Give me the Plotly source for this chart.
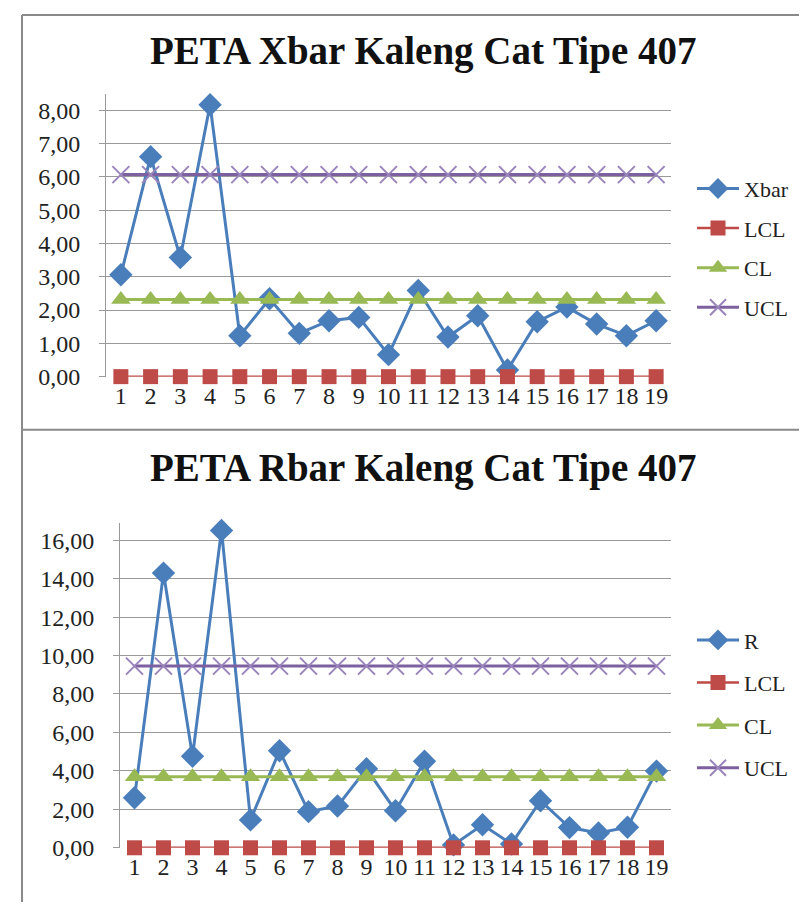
import plotly.graph_objects as go

# ---------------- data ----------------
samples = list(range(1, 20))
tick_labels = [str(i) for i in samples]

xbar = [3.06, 6.61, 3.58, 8.17, 1.23, 2.34, 1.30, 1.68, 1.78, 0.66,
        2.59, 1.19, 1.83, 0.20, 1.65, 2.09, 1.58, 1.23, 1.68]
xbar_lcl = [0.00, 0.00, 0.00, 0.00, 0.00, 0.00, 0.00, 0.00, 0.00, 0.00,
            0.00, 0.00, 0.00, 0.00, 0.00, 0.00, 0.00, 0.00, 0.00]
xbar_cl = [2.32, 2.32, 2.32, 2.32, 2.32, 2.32, 2.32, 2.32, 2.32, 2.32,
           2.32, 2.32, 2.32, 2.32, 2.32, 2.32, 2.32, 2.32, 2.32]
xbar_ucl = [6.07, 6.07, 6.07, 6.07, 6.07, 6.07, 6.07, 6.07, 6.07, 6.07,
            6.07, 6.07, 6.07, 6.07, 6.07, 6.07, 6.07, 6.07, 6.07]

r_vals = [2.60, 14.29, 4.76, 16.51, 1.45, 5.05, 1.88, 2.17, 4.11, 1.93,
          4.50, 0.15, 1.20, 0.20, 2.45, 1.05, 0.77, 1.07, 3.99]
r_lcl = [0.00, 0.00, 0.00, 0.00, 0.00, 0.00, 0.00, 0.00, 0.00, 0.00,
         0.00, 0.00, 0.00, 0.00, 0.00, 0.00, 0.00, 0.00, 0.00]
r_cl = [3.70, 3.70, 3.70, 3.70, 3.70, 3.70, 3.70, 3.70, 3.70, 3.70,
        3.70, 3.70, 3.70, 3.70, 3.70, 3.70, 3.70, 3.70, 3.70]
r_ucl = [9.45, 9.45, 9.45, 9.45, 9.45, 9.45, 9.45, 9.45, 9.45, 9.45,
         9.45, 9.45, 9.45, 9.45, 9.45, 9.45, 9.45, 9.45, 9.45]

title_top = "PETA Xbar Kaleng Cat Tipe 407"
title_bottom = "PETA Rbar Kaleng Cat Tipe 407"

# ---------------- styling ----------------
W, H = 807, 907
FONT = "Liberation Serif, Times New Roman, serif"
BLUE, RED, GREEN, PURPLE = "#4A7EBB", "#BE4B48", "#98B954", "#7D60A0"
GRID = "#9A9A9A"


def px(x):
    return x / W


def py(y):
    return 1 - y / H


fig = go.Figure()


def add_series(xa, ya, legend, names, values):
    styles = [
        dict(color=BLUE, symbol="diamond", size=18, lw=3),
        dict(color=RED, symbol="square", size=15, lw=2.5),
        dict(color=GREEN, symbol="triangle-up", size=17, lw=3),
        dict(color=PURPLE, symbol="x-thin", size=17, lw=3),
    ]
    for i, (name, vals, st) in enumerate(zip(names, values, styles)):
        marker = dict(symbol=st["symbol"], size=st["size"], color=st["color"])
        if st["symbol"] == "x-thin":
            marker["line"] = dict(color="#9A84BC", width=2)
        else:
            marker["line"] = dict(width=0)
        fig.add_trace(go.Scatter(
            x=samples, y=vals, name=name, mode="lines+markers",
            xaxis=xa, yaxis=ya, legend=legend,
            legendgroup=legend + name,
            line=dict(color=st["color"], width=st["lw"]),
            marker=marker, cliponaxis=False,
        ))


add_series("x", "y", "legend", ["Xbar", "LCL", "CL", "UCL"],
           [xbar, xbar_lcl, xbar_cl, xbar_ucl])
add_series("x2", "y2", "legend2", ["R", "LCL", "CL", "UCL"],
           [r_vals, r_lcl, r_cl, r_ucl])

xaxis_common = dict(
    tickmode="array", tickvals=samples, ticktext=tick_labels,
    range=[0.5, 19.5], showgrid=False, zeroline=False, showline=False,
    ticks="", tickfont=dict(family=FONT, size=24, color="#222"),
    ticklabelstandoff=2,
)
yaxis_common = dict(
    showgrid=True, gridcolor=GRID, gridwidth=1, zeroline=False,
    showline=True, linecolor=GRID, linewidth=1,
    ticks="outside", ticklen=6, tickcolor=GRID,
    tickformat=".2f", tickfont=dict(family=FONT, size=24, color="#222"),
    ticklabelstandoff=14,
)

legend_common = dict(
    font=dict(family=FONT, size=22, color="#222"),
    bgcolor="rgba(0,0,0,0)", xanchor="left", yanchor="top",
    itemwidth=42, tracegroupgap=8,
)

fig.update_layout(
    width=W, height=H, autosize=False,
    margin=dict(l=0, r=0, t=0, b=0),
    paper_bgcolor="white", plot_bgcolor="white",
    separators=",.",
    xaxis=dict(domain=[px(98), px(663)], anchor="y", **xaxis_common),
    yaxis=dict(domain=[py(374), py(87)], anchor="x", range=[0, 8.5],
               tickvals=[0, 1, 2, 3, 4, 5, 6, 7, 8], **yaxis_common),
    xaxis2=dict(domain=[px(112), px(663)], anchor="y2", **xaxis_common),
    yaxis2=dict(domain=[py(852), py(522)], anchor="x2", range=[0, 16.92],
                tickvals=[0, 2, 4, 6, 8, 10, 12, 14, 16], **yaxis_common),
    legend=dict(x=px(684), y=py(162), **legend_common),
    legend2=dict(x=px(684), y=py(620), **{**legend_common, "tracegroupgap": 11}),
    showlegend=True,
    annotations=[
        dict(text="<b>" + title_top + "</b>", x=px(415), y=py(44),
             xref="paper", yref="paper", xanchor="center", yanchor="middle",
             showarrow=False, font=dict(family=FONT, size=39, color="#111")),
        dict(text="<b>" + title_bottom + "</b>", x=px(415), y=py(467),
             xref="paper", yref="paper", xanchor="center", yanchor="middle",
             showarrow=False, font=dict(family=FONT, size=39, color="#111")),
    ],
    shapes=[
        dict(type="line", xref="paper", yref="paper", x0=px(14), x1=1,
             y0=py(7), y1=py(7), line=dict(color="#8A8A8A", width=2)),
        dict(type="line", xref="paper", yref="paper", x0=px(14), x1=px(14),
             y0=py(7), y1=0, line=dict(color="#8A8A8A", width=2)),
        dict(type="line", xref="paper", yref="paper", x0=px(14), x1=1,
             y0=py(428), y1=py(428), line=dict(color="#8A8A8A", width=2)),
    ],
)

fig.write_html("out.html")
